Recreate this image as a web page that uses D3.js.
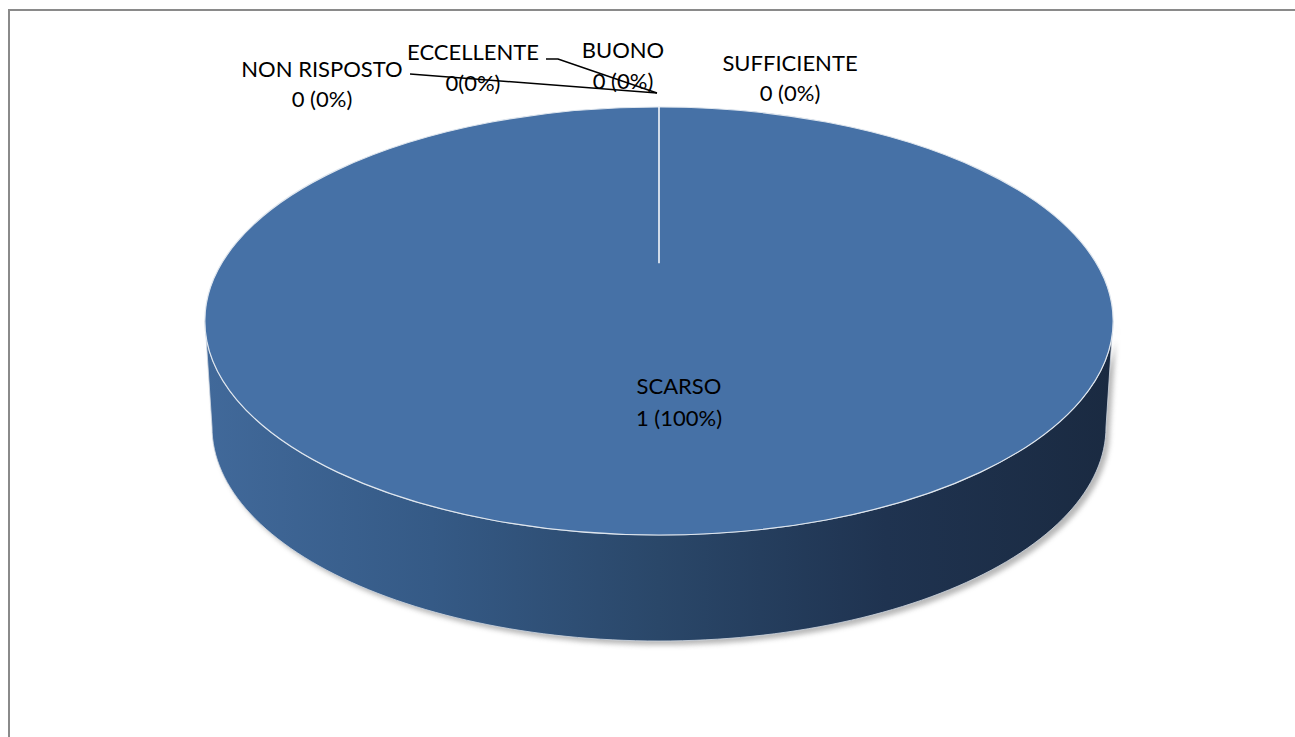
<!DOCTYPE html>
<html>
<head>
<meta charset="utf-8">
<script src="https://cdn.jsdelivr.net/npm/d3@7"></script>
<style>
  html, body { margin: 0; padding: 0; background: #fff; }
  svg { display: block; }
</style>
</head>
<body>
<svg id="chart" width="1295" height="737"></svg>
<script>
// ---- data ----
const categories = ["NON RISPOSTO", "ECCELLENTE", "BUONO", "SUFFICIENTE", "SCARSO"];
const values = [0, 0, 0, 0, 1];
const valueLabels = ["0 (0%)", "0(0%)", "0 (0%)", "0 (0%)", "1 (100%)"];

// ---- layout (separate from data) ----
const W = 1295, H = 737;
const geo = { cx: 659, cy: 321, rx: 454, ry: 214, depth: 106, rxBottom: 447 };
const labelLayout = [
  { x: 322, y: 69, dy: 30 },
  { x: 473, y: 52, dy: 31 },
  { x: 623, y: 50, dy: 31 },
  { x: 790, y: 63, dy: 30 },
  { x: 679, y: 386, dy: 32 }
];
const leaders = [
  [[410, 74], [657, 93]],
  [[546, 59], [558, 59], [657, 93]]
];

const svg = d3.select("#chart");
const defs = svg.append("defs");

// frame
svg.append("rect")
  .attr("x", 9).attr("y", 10).attr("width", W + 20).attr("height", H + 20)
  .attr("fill", "#fff").attr("stroke", "#8a8a8a").attr("stroke-width", 2);

// gradient for side
const grad = defs.append("linearGradient").attr("id", "sideGrad")
  .attr("gradientUnits", "userSpaceOnUse")
  .attr("x1", geo.cx - geo.rx).attr("x2", geo.cx + geo.rx).attr("y1", 0).attr("y2", 0);
[[0, "#41699a"], [0.25, "#355a86"], [0.5, "#2a4769"], [0.75, "#1f3350"], [1, "#1a2a41"]]
  .forEach(([o, c]) => grad.append("stop").attr("offset", o).attr("stop-color", c));

const blur = defs.append("filter").attr("id", "shadow")
  .attr("x", "-10%").attr("y", "-10%").attr("width", "120%").attr("height", "130%");
blur.append("feGaussianBlur").attr("stdDeviation", 2.5);

// pie layout
const pie = d3.pie().sort(null).value(d => d)
  .startAngle(0).endAngle(2 * Math.PI);
const arcs = pie(values);

// Angle -> point on ellipse (d3 convention: 0 at 12 o'clock, clockwise)
const xScale = d3.scaleLinear().domain([-1, 1]).range([geo.cx - geo.rx, geo.cx + geo.rx]);
const yScale = d3.scaleLinear().domain([-1, 1]).range([geo.cy - geo.ry, geo.cy + geo.ry]);
const xScaleB = d3.scaleLinear().domain([-1, 1]).range([geo.cx - geo.rxBottom, geo.cx + geo.rxBottom]);
const yScaleB = d3.scaleLinear().domain([-1, 1]).range([geo.cy + geo.depth - geo.ry, geo.cy + geo.depth + geo.ry]);

function sidePath(a0, a1) {
  const s = Math.max(a0, Math.PI / 2), e = Math.min(a1, 3 * Math.PI / 2);
  if (e <= s) return null;
  const n = 120;
  const topPts = d3.range(n + 1).map(i => {
    const a = s + (e - s) * i / n;
    return [xScale(Math.sin(a)), yScale(-Math.cos(a))];
  });
  const botPts = d3.range(n + 1).map(i => {
    const a = e - (e - s) * i / n;
    return [xScaleB(Math.sin(a)), yScaleB(-Math.cos(a))];
  });
  return d3.line()(topPts.concat(botPts)) + "Z";
}

// shadow
arcs.forEach(d => {
  const p = sidePath(d.startAngle, d.endAngle);
  if (!p) return;
  svg.append("path").attr("d", p)
    .attr("transform", "translate(4,4)")
    .attr("fill", "#9a9a9a").attr("opacity", 0.7)
    .attr("filter", "url(#shadow)");
});

// sides
arcs.forEach(d => {
  const p = sidePath(d.startAngle, d.endAngle);
  if (!p) return;
  svg.append("path").attr("d", p)
    .attr("fill", "url(#sideGrad)")
    .attr("stroke", "#d0d8e2").attr("stroke-width", 0.8);
});

// top face via d3.arc scaled into ellipse
const arcGen = d3.arc().innerRadius(0).outerRadius(geo.rx);
const topFace = svg.append("g")
  .attr("transform", `translate(${geo.cx},${geo.cy}) scale(1,${geo.ry / geo.rx})`);
topFace.selectAll("path.slice").data(arcs.filter(d => d.value > 0)).join("path")
  .attr("class", "slice")
  .attr("d", arcGen)
  .attr("fill", "#4671a6")
  .attr("stroke", "#dfe6ee").attr("stroke-width", 1.2)
  .attr("vector-effect", "non-scaling-stroke");

// slice boundary for the zero-value slices (all at angle 0)
const zeroAngles = arcs.filter(d => d.value === 0).map(d => d.startAngle);
if (zeroAngles.length) {
  const a = zeroAngles[0];
  svg.append("line")
    .attr("x1", xScale(Math.sin(a))).attr("y1", yScale(-Math.cos(a)))
    .attr("x2", xScale(Math.sin(a) * 0.27)).attr("y2", yScale(-0.27))
    .attr("stroke", "#ffffff").attr("stroke-width", 1.5);
}

// leader lines
leaders.forEach(pts => {
  svg.append("path").attr("d", d3.line()(pts))
    .attr("fill", "none").attr("stroke", "#000").attr("stroke-width", 1.6);
});

// labels
const font = "Lato, 'Open Sans', sans-serif";
categories.forEach((c, i) => {
  const L = labelLayout[i];
  const t = svg.append("text")
    .attr("x", L.x).attr("y", L.y)
    .attr("text-anchor", "middle")
    .attr("font-family", font).attr("font-size", 22)
    .attr("fill", "#000");
  t.append("tspan").attr("x", L.x).attr("dy", "0.35em").text(c);
  t.append("tspan").attr("x", L.x).attr("dy", L.dy).text(valueLabels[i]);
});
</script>
</body>
</html>
